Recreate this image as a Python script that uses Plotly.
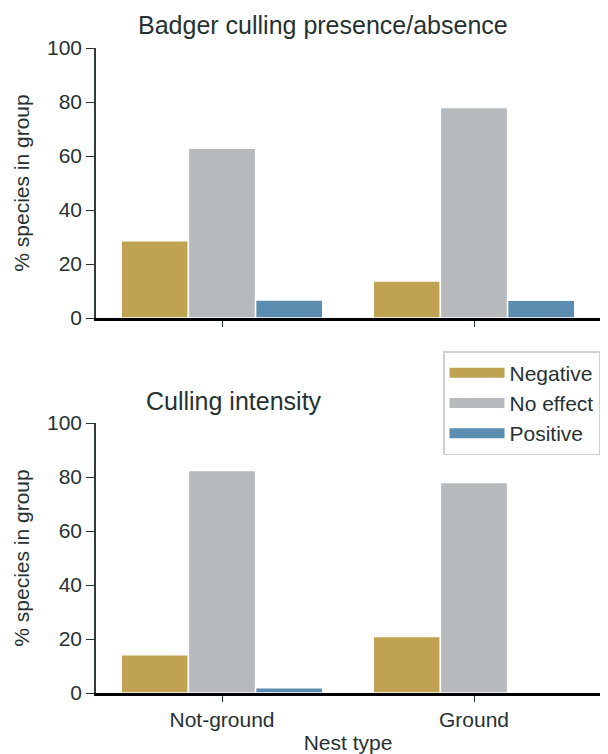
import plotly.graph_objects as go
from plotly.subplots import make_subplots

categories = ["Not-ground", "Ground"]
effects = ["Negative", "No effect", "Positive"]
colors = {"Negative": "#c0a352", "No effect": "#b6babd", "Positive": "#5a8db0"}

presence_negative = [28.6, 13.7]
presence_noeffect = [62.9, 78.0]
presence_positive = [6.7, 6.6]

intensity_negative = [14.2, 20.9]
intensity_noeffect = [82.4, 78.0]
intensity_positive = [1.9, 0.0]

panel_titles = ["Badger culling presence/absence", "Culling intensity"]

W, H = 608, 754
ML, MR, MT, MB = 96, 8, 48, 61
PH = H - MT - MB
PW = W - ML - MR
top_y0 = (693 - 318) / PH
bot_y1 = (693 - 423) / PH

TXT = "#263232"
FONT = "Liberation Sans, Arial, sans-serif"
FS = 21

fig = make_subplots(rows=2, cols=1, shared_xaxes=False)

panels = [
    (presence_negative, presence_noeffect, presence_positive),
    (intensity_negative, intensity_noeffect, intensity_positive),
]
for r, vals in enumerate(panels, start=1):
    for name, v in zip(effects, vals):
        fig.add_trace(
            go.Bar(
                x=categories, y=v, name=name,
                marker=dict(color=colors[name], line=dict(color="white", width=1.5)),
                showlegend=False,
                legendgroup=name,
            ),
            row=r, col=1,
        )

# legend entries (wide rectangular swatches like the reference)
for name in effects:
    fig.add_trace(
        go.Scatter(x=[None], y=[None], mode="lines", name=name,
                   line=dict(color=colors[name], width=13),
                   legendgroup=name, showlegend=True, hoverinfo="skip"),
        row=2, col=1,
    )

fig.update_layout(
    width=W, height=H,
    margin=dict(l=ML, r=MR, t=MT, b=MB, autoexpand=False),
    paper_bgcolor="white", plot_bgcolor="white",
    barmode="group", bargap=0.2, bargroupgap=0.0,
    font=dict(family=FONT, color=TXT, size=FS),
    legend=dict(
        x=(600 - ML) / PW, xanchor="right", y=(693 - 351) / PH, yanchor="top",
        bordercolor="#d0d0d0", borderwidth=1.5, bgcolor="white",
        font=dict(size=FS, color=TXT),
        tracegroupgap=0, itemwidth=55,
    ),
)

for ax in ["xaxis", "xaxis2"]:
    fig.layout[ax].update(
        range=[-0.5, 1.5], showline=True, linecolor="black", linewidth=2.5,
        ticks="outside", ticklen=6, tickwidth=1.3, tickcolor=TXT,
        showgrid=False, zeroline=False, automargin=False,
        tickfont=dict(size=FS, color=TXT),
    )
fig.layout.xaxis.update(showticklabels=False, domain=[0, 1])
fig.layout.xaxis2.update(
    domain=[0, 1],
    title=dict(text="Nest type", font=dict(size=FS, color=TXT), standoff=16),
)
for ax, dom in [("yaxis", [top_y0, 1.0]), ("yaxis2", [0.0, bot_y1])]:
    fig.layout[ax].update(
        domain=dom, range=[0, 100], tickvals=[0, 20, 40, 60, 80, 100],
        showline=True, linecolor="#2f3b3b", linewidth=1.5,
        ticks="outside", ticklen=8, tickwidth=1.3, tickcolor=TXT,
        showgrid=False, zeroline=False, automargin=False,
        tickfont=dict(size=FS, color=TXT),
        title=dict(text="% species in group", font=dict(size=FS, color=TXT), standoff=12),
    )

# panel titles
fig.add_annotation(text=panel_titles[0], xref="paper", yref="paper",
                   x=(323 - ML) / PW, y=(693 - 25) / PH,
                   xanchor="center", yanchor="middle", showarrow=False,
                   font=dict(size=25, color=TXT))
fig.add_annotation(text=panel_titles[1], xref="paper", yref="paper",
                   x=(234 - ML) / PW, y=(693 - 401) / PH,
                   xanchor="center", yanchor="middle", showarrow=False,
                   font=dict(size=25, color=TXT))

fig.write_html("out.html")
